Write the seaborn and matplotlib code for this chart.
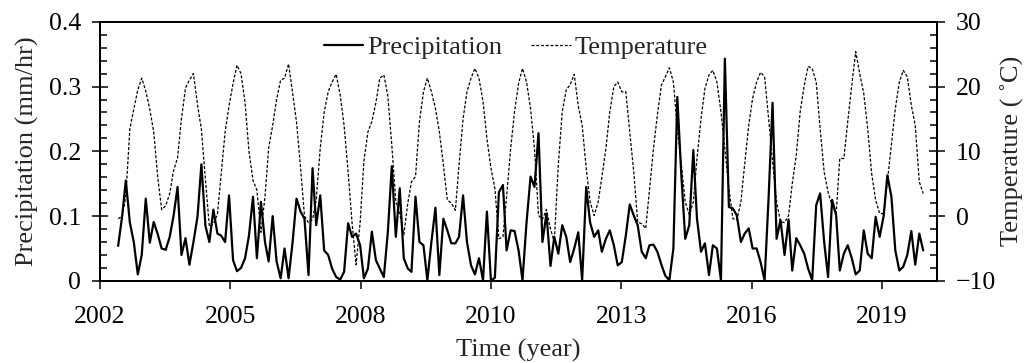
import matplotlib
matplotlib.use("Agg")
import matplotlib.pyplot as plt
import matplotlib.dates as mdates
from matplotlib.ticker import MultipleLocator, FixedLocator, FixedFormatter
import numpy as np
import pandas as pd
import seaborn as sns

# ---------------- data (monthly, Jan 2003 - Dec 2019) ----------------
first_month = "2003-01-01"

precip_2003_2005 = [0.054, 0.10, 0.155, 0.09, 0.06, 0.01, 0.04, 0.127, 0.059, 0.091, 0.072, 0.05,
                    0.048, 0.068, 0.10, 0.145, 0.04, 0.066, 0.025, 0.06, 0.099, 0.18, 0.085, 0.06,
                    0.11, 0.073, 0.07, 0.06, 0.132]
precip_2005_2008 = [0.032, 0.015, 0.02, 0.035, 0.07, 0.13, 0.035, 0.122, 0.06, 0.03, 0.10, 0.03,
                    0.004, 0.05, 0.004, 0.06, 0.127, 0.107, 0.096, 0.009, 0.174, 0.086, 0.132, 0.047,
                    0.04, 0.019, 0.006, 0.002, 0.014, 0.089, 0.068, 0.073, 0.055, 0.004, 0.019]
precip_2008_2011 = [0.076, 0.032, 0.019, 0.006, 0.076, 0.177, 0.068, 0.143, 0.035, 0.019, 0.014, 0.13,
                    0.06, 0.055, 0.001, 0.06, 0.113, 0.009, 0.096, 0.078, 0.058, 0.058, 0.068, 0.132,
                    0.06, 0.024, 0.01, 0.035, 0.001, 0.107, 0.0, 0.005, 0.137, 0.148, 0.047]
precip_2011_2014 = [0.078, 0.077, 0.047, 0.001, 0.09, 0.161, 0.145, 0.228, 0.06, 0.104, 0.023, 0.068,
                    0.042, 0.086, 0.068, 0.029, 0.05, 0.075, 0.001, 0.145, 0.09, 0.068, 0.078, 0.045,
                    0.065, 0.078, 0.055, 0.024, 0.029, 0.07, 0.118, 0.101, 0.086, 0.045, 0.035, 0.055]
precip_2014_2016 = [0.056, 0.045, 0.025, 0.008, 0.001, 0.05, 0.284, 0.163, 0.065, 0.086, 0.202, 0.096,
                    0.045, 0.058, 0.009, 0.055, 0.05, 0.001, 0.343, 0.114, 0.112, 0.101, 0.06, 0.073,
                    0.081, 0.05, 0.05, 0.029, 0.001, 0.13, 0.275, 0.065, 0.094]
precip_2017_2019 = [0.04, 0.095, 0.016, 0.066, 0.055, 0.042, 0.019, 0.001, 0.117, 0.135, 0.06, 0.006,
                    0.125, 0.101, 0.016, 0.042, 0.055, 0.035, 0.01, 0.016, 0.078, 0.042, 0.035, 0.099,
                    0.068, 0.101, 0.163, 0.13, 0.047, 0.016, 0.022, 0.04, 0.077, 0.025, 0.073, 0.047]

temp_2003_2005 = [-0.4, 0, 3, 13.5, 16.5, 19.5, 21.3, 19.3, 16.5, 13, 6, 1,
                  1.6, 3.5, 7, 9, 15, 19.8, 21, 22, 17.2, 13.4, 5.6, -1.6,
                  -1.2, 0.3, 6.3, 13, 17]
temp_2005_2008 = [20.5, 23.3, 22, 17.5, 10, 5.5, 4, -2.5, 3, 10.5, 14, 18,
                  21, 21.3, 23.5, 19, 14.5, 7.5, 0, -1, -0.5, 2.5, 10.5, 16,
                  19.2, 20.7, 21.9, 18.7, 14, 6.8, -1, -7.5, -1, 8.5, 13]
temp_2008_2011 = [14.6, 17.5, 21.3, 21.8, 18.5, 11, 2.2, 0.5, -2.9, 2, 5.3, 6.1,
                  14.5, 19.2, 21.3, 19.2, 16.6, 13, 7.9, 2.5, 2, 0.9, 7.9, 15,
                  19.2, 21.3, 22.8, 21.3, 17.7, 12, 7.4, 4.3, -3.5, -3.2, 3]
temp_2011_2014 = [10.4, 16.1, 20.5, 22.8, 20.7, 16.6, 10.4, 0.1, -0.5, 1, -2, -4,
                  8, 16.1, 19.5, 20.3, 21.9, 17, 14, 7.4, 2.2, 0.1, 2.2, 6,
                  10.4, 16.1, 20, 20.7, 19.2, 19.2, 13, 6.8, -0.9, -1.2, -1.9, 4]
temp_2014_2016 = [10.4, 15.6, 20.2, 21.5, 22.9, 20.7, 13.5, 7.9, 2.2, 0.2, 2.2, 8.9,
                  15, 19.7, 21.8, 22.5, 20.7, 16.1, 10.4, 4.3, -0.4, -0.6, 2.2, 8,
                  14, 18.2, 20.7, 22.2, 21.5, 15, 8.4, 2.2, -0.9]
temp_2017_2019 = [-1, 0.1, 5, 9.4, 16.1, 20.2, 23.1, 22.8, 20.7, 13.5, 6.8, 3.7,
                  1.7, 0.4, 8.9, 8.9, 14.6, 20.2, 25.4, 22, 18.9, 13.5, 6.5, 2.5,
                  0.4, 0.4, 5.3, 11, 16.6, 20.7, 22.5, 21.5, 17.1, 14, 5.3, 3.5]

x_tick_labels = ["2002", "2005", "2008", "2010", "2013", "2016", "2019"]
left_ticks = [0, 0.1, 0.2, 0.3, 0.4]
left_tick_labels = ["0", "0.1", "0.2", "0.3", "0.4"]
right_ticks = [-10, 0, 10, 20, 30]

precipitation = (precip_2003_2005 + precip_2005_2008 + precip_2008_2011 +
                 precip_2011_2014 + precip_2014_2016 + precip_2017_2019)
temperature = (temp_2003_2005 + temp_2005_2008 + temp_2008_2011 +
               temp_2011_2014 + temp_2014_2016 + temp_2017_2019)

dates = pd.date_range(first_month, periods=len(precipitation), freq="MS")
df = pd.DataFrame({"date": dates, "Precipitation": precipitation, "Temperature": temperature})

# ---------------- style ----------------
sns.set_style("ticks")
plt.rcParams["font.family"] = ["Liberation Serif", "DejaVu Serif"]
plt.rcParams["font.size"] = 19
plt.rcParams["axes.linewidth"] = 1.4

fig = plt.figure(figsize=(10.29, 3.63), dpi=100)
ax = fig.add_axes([0.0972, 0.2262, 0.8134, 0.7138])
ax2 = ax.twinx()

sns.lineplot(data=df, x="date", y="Precipitation", ax=ax, color="black",
             linewidth=1.6, label="Precipitation", legend=False)
sns.lineplot(data=df, x="date", y="Temperature", ax=ax2, color="black",
             linewidth=0.9, linestyle=(0, (2.4, 1.4)), label="Temperature", legend=False)

# x axis: date axis with a 1000-day major unit
x_start = pd.Timestamp("2002-08-15")
x_end = x_start + pd.Timedelta(days=6423)
ax.set_xlim(x_start, x_end)
tick_pos = [mdates.date2num(x_start + pd.Timedelta(days=1000 * k)) for k in range(len(x_tick_labels))]
ax.xaxis.set_major_locator(FixedLocator(tick_pos))
ax.xaxis.set_major_formatter(FixedFormatter(x_tick_labels))
ax.xaxis.set_minor_locator(FixedLocator([]))

ax.set_ylim(0, 0.4)
ax.yaxis.set_major_locator(FixedLocator(left_ticks))
ax.yaxis.set_major_formatter(FixedFormatter(left_tick_labels))
ax.yaxis.set_minor_locator(MultipleLocator(0.02))

ax2.set_ylim(-10, 30)
ax2.yaxis.set_major_locator(FixedLocator(right_ticks))
ax2.yaxis.set_minor_locator(MultipleLocator(2))

for s in ax.spines.values():
    s.set_color("black")
    s.set_linewidth(1.4)
for s in ax2.spines.values():
    s.set_color("black")
    s.set_linewidth(1.4)

ax.tick_params(axis="x", which="major", direction="out", length=6, width=1.1,
               labelsize=18.5, pad=12, colors="black", top=False)
ax.tick_params(axis="y", which="major", direction="inout", length=11, width=1.1,
               labelsize=18.5, pad=8, colors="black", right=False)
ax.tick_params(axis="y", which="minor", direction="in", length=5, width=1.1,
               right=False, colors="black")
ax2.tick_params(axis="y", which="major", direction="inout", length=11, width=1.1,
                labelsize=18.5, pad=8, colors="black")
ax2.tick_params(axis="y", which="minor", direction="in", length=5, width=1.1, colors="black")

ax.set_xlabel("Time (year)", fontsize=19, labelpad=8)
ax.set_ylabel("Precipitation (mm/hr)", fontsize=19, labelpad=7)
ax2.set_ylabel("Temperature ( ˚C)", fontsize=19, labelpad=3)
ax.grid(False)
ax2.grid(False)

h1, l1 = ax.get_legend_handles_labels()
h2, l2 = ax2.get_legend_handles_labels()
ax.legend(h1 + h2, l1 + l2, loc="center", bbox_to_anchor=(0.497, 0.9), ncol=2,
          frameon=False, fontsize=19, handlelength=1.5, handletextpad=0.15,
          columnspacing=1.1, borderpad=0, borderaxespad=0)

fig.savefig("out.png", dpi=100)
